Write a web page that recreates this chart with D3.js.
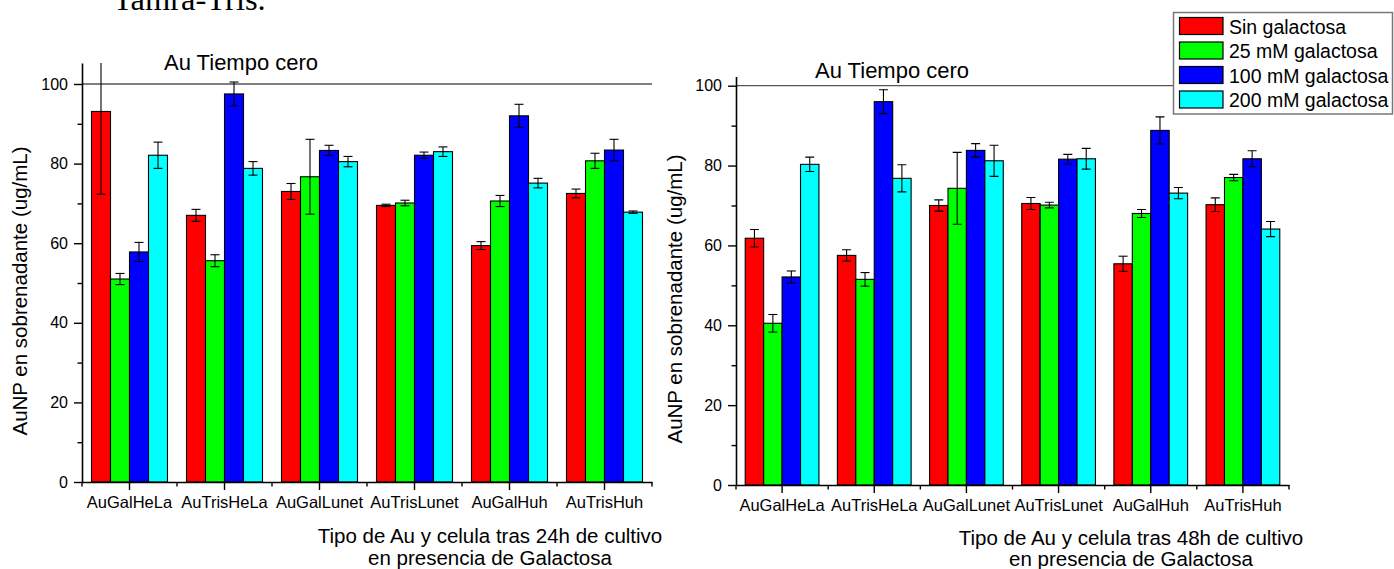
<!DOCTYPE html>
<html>
<head>
<meta charset="utf-8">
<script src="https://cdn.jsdelivr.net/npm/d3@7/dist/d3.min.js"></script>
<style>
  html, body { margin: 0; padding: 0; background: #fff; }
  svg { display: block; }
  text { font-family: "Liberation Sans", Arial, sans-serif; fill: #000; }
</style>
</head>
<body>
<svg id="chart" width="1394" height="569"></svg>
<script>
// ---------- data ----------
const categories = ["AuGalHeLa", "AuTrisHeLa", "AuGalLunet", "AuTrisLunet", "AuGalHuh", "AuTrisHuh"];
const seriesNames = ["Sin galactosa", "25 mM galactosa", "100 mM galactosa", "200 mM galactosa"];
const seriesColors = ["#ff0000", "#00ff00", "#0000ff", "#00ffff"];

// 24 h (rows = categories, columns = series)
const mean24 = [
  [93.1, 51.0, 57.8, 82.1],
  [67.0, 55.6, 97.5, 78.8],
  [73.0, 76.7, 83.3, 80.5],
  [69.5, 70.1, 82.1, 83.0],
  [59.4, 70.6, 92.0, 75.1],
  [72.5, 80.7, 83.4, 67.8]
];
const err24 = [
  [20.8, 1.4, 2.4, 3.3],
  [1.5, 1.5, 3.0, 1.7],
  [2.0, 9.4, 1.3, 1.3],
  [0.3, 0.7, 0.8, 1.2],
  [1.0, 1.4, 2.9, 1.2],
  [1.1, 1.9, 2.7, 0.3]
];
// 48 h
const mean48 = [
  [61.8, 40.5, 52.1, 80.3],
  [57.5, 51.5, 96.0, 76.8],
  [70.0, 74.3, 83.8, 81.2],
  [70.5, 70.1, 81.6, 81.7],
  [55.4, 68.0, 88.8, 73.1],
  [70.2, 77.0, 81.7, 64.1]
];
const err48 = [
  [2.2, 2.2, 1.5, 1.8],
  [1.4, 1.7, 3.0, 3.4],
  [1.4, 9.0, 1.7, 3.9],
  [1.5, 0.7, 1.2, 2.6],
  [1.9, 1.0, 3.4, 1.4],
  [1.7, 0.8, 2.0, 1.9]
];
const yMajorTicks = [0, 20, 40, 60, 80, 100];
const yMinorTicks = [10, 30, 50, 70, 90];
const referenceValue = 100;
const referenceLabel = "Au Tiempo cero";
const yTitle = "AuNP en sobrenadante (ug/mL)";
const xTitle24 = ["Tipo de Au y celula tras 24h de cultivo", "en presencia de Galactosa"];
const xTitle48 = ["Tipo de Au y celula tras 48h de cultivo", "en presencia de Galactosa"];
const pageCaption = "Tamra-Tris.";

// ---------- drawing ----------
const svg = d3.select("#chart");

svg.append("text")
  .attr("x", 113).attr("y", 10)
  .style("font-family", "'Liberation Serif', 'Times New Roman', serif")
  .style("font-size", "32.5px")
  .text(pageCaption);

function drawPanel(cfg) {
  const g = svg.append("g");
  const x = d3.scaleBand().domain(categories).range([cfg.x0, cfg.x1]).paddingInner(0).paddingOuter(0);
  const xs = d3.scaleBand().domain(seriesNames).range([0, x.bandwidth()]).paddingInner(0).paddingOuter(0.5);
  const y = d3.scaleLinear().domain([0, cfg.yMax]).range([cfg.y0, cfg.y0 - cfg.yMax * cfg.ppu]);

  const clipId = "clip" + cfg.id;
  svg.append("clipPath").attr("id", clipId)
    .append("rect")
    .attr("x", cfg.x0).attr("y", y(cfg.yMax))
    .attr("width", cfg.x1 - cfg.x0).attr("height", cfg.y0 - y(cfg.yMax));

  // reference line
  g.append("line")
    .attr("x1", cfg.x0).attr("x2", cfg.x1)
    .attr("y1", y(referenceValue)).attr("y2", y(referenceValue))
    .attr("stroke", "#555").attr("stroke-width", 1.3);

  g.append("text")
    .attr("x", cfg.refLabelX).attr("y", y(referenceValue) - cfg.refLabelDy)
    .style("font-size", "22px")
    .text(referenceLabel);

  // bars
  const rows = [];
  categories.forEach((c, i) => {
    seriesNames.forEach((s, j) => {
      rows.push({ c, s, j, v: cfg.mean[i][j], e: cfg.err[i][j] });
    });
  });

  g.append("g").selectAll("rect").data(rows).join("rect")
    .attr("x", d => x(d.c) + xs(d.s))
    .attr("width", xs.bandwidth())
    .attr("y", d => y(d.v))
    .attr("height", d => y(0) - y(d.v))
    .attr("fill", d => seriesColors[d.j])
    .attr("stroke", "#000")
    .attr("stroke-width", 1.1);

  // error bars
  const eb = g.append("g").attr("clip-path", `url(#${clipId})`)
    .attr("stroke", "#000").attr("stroke-width", 1.1);
  const cap = 4.5;
  rows.forEach(d => {
    const cx = x(d.c) + xs(d.s) + xs.bandwidth() / 2;
    eb.append("line").attr("x1", cx).attr("x2", cx).attr("y1", y(d.v - d.e)).attr("y2", y(d.v + d.e));
    eb.append("line").attr("x1", cx - cap).attr("x2", cx + cap).attr("y1", y(d.v - d.e)).attr("y2", y(d.v - d.e));
    eb.append("line").attr("x1", cx - cap).attr("x2", cx + cap).attr("y1", y(d.v + d.e)).attr("y2", y(d.v + d.e));
  });

  // y axis
  const yAxis = g.append("g").attr("transform", `translate(${cfg.x0},0)`)
    .call(d3.axisLeft(y).tickValues(yMajorTicks).tickSize(8).tickSizeOuter(0).tickPadding(6).tickFormat(d3.format("d")));
  yAxis.select(".domain").attr("stroke-width", 1.6);
  yAxis.selectAll(".tick line").attr("stroke-width", 1.4);
  yAxis.selectAll("text").style("font-size", "16px").style("font-family", "'Liberation Sans', Arial, sans-serif");

  const yMinor = g.append("g").attr("transform", `translate(${cfg.x0},0)`)
    .call(d3.axisLeft(y).tickValues(yMinorTicks).tickSize(4.5).tickSizeOuter(0).tickFormat(""));
  yMinor.select(".domain").remove();
  yMinor.selectAll(".tick line").attr("stroke-width", 1.4);

  // x axis
  const xAxis = g.append("g").attr("transform", `translate(0,${cfg.y0})`)
    .call(d3.axisBottom(x).tickSize(8).tickSizeOuter(0).tickPadding(6));
  xAxis.select(".domain").attr("stroke-width", 1.6);
  xAxis.selectAll(".tick line").attr("stroke-width", 1.4);
  xAxis.selectAll("text").style("font-size", "16.5px").style("font-family", "'Liberation Sans', Arial, sans-serif");

  const bounds = categories.map(c => x(c)).concat([x.range()[1]]);
  g.append("g").selectAll("line").data(bounds).join("line")
    .attr("x1", d => d).attr("x2", d => d)
    .attr("y1", cfg.y0).attr("y2", cfg.y0 + 4.5)
    .attr("stroke", "#000").attr("stroke-width", 1.4);

  // axis titles
  g.append("text")
    .attr("transform", `translate(${cfg.yTitleX},${cfg.yTitleY}) rotate(-90)`)
    .attr("text-anchor", "middle")
    .style("font-size", "20.5px")
    .text(yTitle);

  cfg.xTitle.forEach((t, k) => {
    g.append("text")
      .attr("x", cfg.xTitleX).attr("y", cfg.xTitleY[k])
      .attr("text-anchor", "middle")
      .style("font-size", "20.5px")
      .text(t);
  });
}

drawPanel({
  id: "a", mean: mean24, err: err24,
  x0: 82, x1: 652, y0: 482, ppu: 3.98, yMax: 105.3,
  refLabelX: 164, refLabelDy: 14,
  yTitleX: 27, yTitleY: 291,
  xTitle: xTitle24, xTitleX: 490, xTitleY: [543, 565]
});

drawPanel({
  id: "b", mean: mean48, err: err48,
  x0: 736, x1: 1289, y0: 485, ppu: 3.993, yMax: 102.3,
  refLabelX: 815, refLabelDy: 7.5,
  yTitleX: 681.5, yTitleY: 299,
  xTitle: xTitle48, xTitleX: 1131, xTitleY: [545, 566]
});

// legend
const legend = svg.append("g");
legend.append("rect")
  .attr("x", 1173.5).attr("y", 12.5).attr("width", 219).attr("height", 101.5)
  .attr("fill", "#fff").attr("stroke", "#777").attr("stroke-width", 1.5);
seriesNames.forEach((s, j) => {
  const yy = 17.5 + j * 24.5;
  legend.append("rect")
    .attr("x", 1179.5).attr("y", yy).attr("width", 43.5).attr("height", 17)
    .attr("fill", seriesColors[j]).attr("stroke", "#000").attr("stroke-width", 1.2);
  legend.append("text")
    .attr("x", 1229).attr("y", yy + 16)
    .style("font-size", "19.5px")
    .text(s);
});
</script>
</body>
</html>
